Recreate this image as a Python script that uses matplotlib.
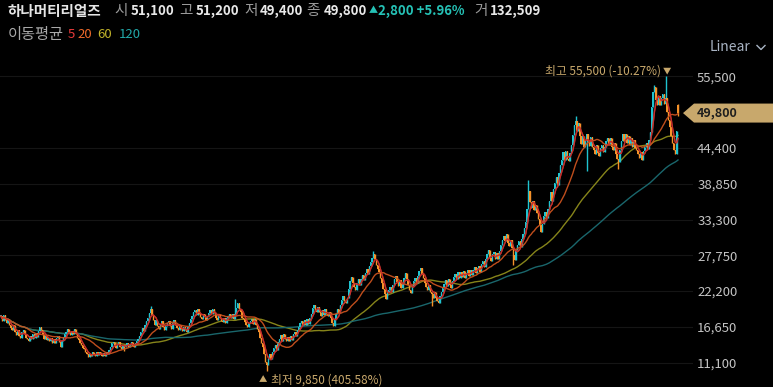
import matplotlib
matplotlib.use('Agg')
import matplotlib.pyplot as plt
import numpy as np
import pandas as pd
from matplotlib.patches import Polygon

plt.rcParams['font.family'] = ['Noto Sans CJK KR', 'DejaVu Sans']

W, H = 773, 387

# ---- data (daily closes) ----
closes = [
    18300, 17600, 18500, 17700, 17200, 17900, 17000, 16500, 16100, 16900,
    15900, 15400, 16100, 15300, 15000, 15800, 16200, 15500, 15000, 14700,
    14500, 15300, 14800, 15600, 15000, 15700, 15100, 16000, 16600, 16200,
    15400, 14800, 15300, 14600, 15000, 14500, 14900, 14200, 14800, 14100,
    14900, 15200, 14300, 13600, 14500, 15100, 15500, 15900, 16400, 15900,
    15400, 16000, 15500, 16300, 15500, 15000, 14600, 14100, 13900, 13400,
    13200, 12700, 12400, 12000, 12500, 12100, 12800, 12300, 12100, 12700,
    12300, 12800, 12300, 12100, 12600, 12200, 12700, 12400, 13000, 13500,
    14100, 14300, 13700, 13400, 14000, 14300, 13600, 13300, 13900, 13500,
    13900, 14200, 13600, 14000, 14300, 13700, 13500, 14100, 14500, 14800,
    15300, 15900, 16500, 16000, 16900, 17500, 18100, 18800, 19400, 18500,
    17700, 17000, 17700, 16800, 16400, 17100, 17600, 16700, 16200, 16800,
    17300, 17600, 16800, 16300, 17200, 17700, 17000, 16500, 16200, 16900,
    16300, 16000, 16600, 16100, 15900, 16600, 17200, 17800, 18400, 18900,
    19200, 18500, 19400, 18700, 18200, 17900, 18700, 18200, 17700, 18400,
    18800, 19300, 18600, 19500, 18800, 18100, 17700, 18600, 18000, 17500,
    17400, 18100, 17300, 18000, 18400, 18700, 18000, 18600, 17800, 18700,
    19600, 20400, 19500, 18900, 18100, 17900, 17400, 17000, 16600, 17300,
    17600, 17900, 17100, 17800, 16900, 16300, 15800, 15000, 14200, 13500,
    12400, 11200, 10700, 11800, 12400, 11700, 12700, 13400, 13800, 13100,
    14300, 14800, 15400, 14500, 15500, 14800, 14400, 15100, 14500, 15300,
    14600, 15500, 15900, 15200, 16200, 16700, 17200, 17600, 17000, 17700,
    17000, 17800, 17100, 18000, 18700, 19600, 20100, 19300, 18900, 19800,
    18900, 18400, 19300, 18500, 19400, 18700, 18300, 19000, 18100, 17300,
    16800, 17900, 18700, 19400, 18800, 20000, 20800, 21500, 20600, 20300,
    21200, 22600, 23700, 24400, 23500, 22800, 22300, 23400, 24000, 23200,
    24100, 24700, 23900, 25000, 25600, 24900, 26100, 26700, 27400, 28000,
    27100, 26300, 25600, 25100, 24300, 23500, 22500, 21700, 21000, 22000,
    22400, 22900, 22100, 23200, 24000, 24500, 23600, 23000, 23900, 22700,
    23500, 24200, 25000, 24000, 23100, 22400, 21900, 23000, 23700, 24300,
    23400, 24500, 25300, 25800, 24900, 24200, 23400, 22800, 22300, 23100,
    22100, 21700, 21200, 22000, 21100, 20600, 20400, 21400, 22000, 22700,
    23300, 23900, 23000, 24100, 23100, 22700, 23700, 24400, 24900, 24100,
    25100, 24300, 25200, 24400, 25300, 24200, 25000, 25400, 24600, 25500,
    24700, 25500, 25900, 25000, 25800, 26100, 25200, 26400, 26900, 26000,
    27200, 27900, 28500, 27300, 26800, 27900, 28300, 27200, 28100, 27100,
    28400, 29300, 30100, 30700, 29900, 31000, 29700, 29200, 30100, 28900,
    27800, 27000, 28500, 29300, 29900, 29100, 30300, 31100, 32000, 32900,
    34900, 37700, 36000, 35100, 36100, 34700, 35600, 34300, 33400, 32500,
    31400, 32600, 33800, 34500, 33600, 35000, 36200, 37500, 36200, 38100,
    38900, 39900, 38600, 40500, 41800, 42600, 43700, 42500, 43900, 42700,
    42300, 43600, 44900, 46400, 47900, 48600, 47000, 48300, 46200, 45000,
    46200, 44600, 45700, 46600, 45400, 44700, 46100, 44500, 44000, 43500,
    44800, 43600, 43100, 44400, 44900, 43700, 44600, 45400, 46000, 45000,
    45900, 44600, 44100, 45200, 43400, 42700, 42200, 44100, 45500, 46500,
    45400, 46600, 45200, 46300, 44900, 46000, 44600, 45600, 44400, 44000,
    43500, 42900, 43800, 42600, 43900, 44500, 45200, 44200, 45600, 46900,
    50800, 53000, 53800, 51900, 51100, 52500, 51000, 52100, 52700, 51200,
    52100, 50000, 48800, 47600, 46200, 45100, 44000, 43500, 47000, 49800,
]
last_open, last_high, last_low, last_close = 51100, 51200, 49400, 49800
change, change_pct, volume = 2800, 5.96, 132509
wick_high = {108: 19900, 169: 20900, 269: 28400, 381: 39500, 415: 49400,
             472: 54200, 480: 55500}
wick_low = {89: 12900, 192: 9850, 311: 19900, 370: 26300, 423: 40800, 446: 41100}
ma_windows = [5, 20, 60, 120]
ma_line_colors = ['#c8302c', '#c9521e', '#8e8c1c', '#1b6c72']
ma_label_colors = ['#e83a3a', '#f06a2a', '#c2b42a', '#22a8a8']
ytick_values = [11100, 16650, 22200, 27750, 33300, 38850, 44400, 55500]
hi_idx, hi_val, hi_pct = 480, 55500, -10.27
lo_idx, lo_val, lo_pct = 192, 9850, 405.58

UP = '#1fc3d0'
DOWN = '#f5922a'
BG = '#000000'
TAN = '#c8a86c'

n = len(closes)
idx = np.arange(n)
c = np.array(closes, dtype=float)
o = np.concatenate([[c[0]], c[:-1]])
o[-1] = last_open
hi = np.maximum(o, c)
lo = np.minimum(o, c)
for k, v in wick_high.items():
    hi[k] = v
for k, v in wick_low.items():
    lo[k] = v
hi[-1] = last_high
lo[-1] = last_low

fig = plt.figure(figsize=(W / 100, H / 100), dpi=100, facecolor=BG)
ax_right = 693
ax = fig.add_axes([0, 0, ax_right / W, 1])
ax.set_facecolor(BG)

px_per_candle = 1.3845
left = -1 / px_per_candle
ax.set_xlim(left, left + ax_right / px_per_candle)
p_top = 11100 + 362.7 * 155.03
p_bot = 11100 - (H - 362.7) * 155.03
ax.set_ylim(p_bot, p_top)

for sp in ax.spines.values():
    sp.set_visible(False)
ax.set_xticks([])
ax.yaxis.tick_right()
ax.set_yticks(ytick_values)
ax.set_yticklabels([f'{v:,}' for v in ytick_values])
ax.tick_params(axis='y', length=0, pad=3, labelsize=9.5, labelcolor='#c4c4c4')
ax.grid(axis='y', color='#151515', linewidth=0.8)
ax.set_axisbelow(True)

s = pd.Series(c)
for w, col in zip(ma_windows, ma_line_colors):
    ma = s.rolling(w, min_periods=1).mean()
    ax.plot(idx, ma, color=col, linewidth=1.0, zorder=2 if w > 20 else 4, alpha=0.95)

up = c >= o
colors = np.where(up, UP, DOWN)
ax.vlines(idx, lo, hi, colors=colors, linewidth=1.0, zorder=3)
body_h = np.maximum(np.abs(c - o), 150)
ax.bar(idx, body_h, bottom=np.minimum(o, c), width=0.9, color=colors, linewidth=0, zorder=3)
ma5 = s.rolling(5, min_periods=1).mean()
ax.plot(idx, ma5, color=ma_line_colors[0], linewidth=0.9, zorder=4, alpha=0.8)

ax.annotate('▼', xy=(hi_idx, hi_val), xytext=(1, 5), textcoords='offset pixels',
            ha='center', va='center', fontsize=6, color=TAN)
ax.annotate(f'최고 {hi_val:,} ({hi_pct:.2f}%)', xy=(hi_idx, hi_val), xytext=(-5, 5),
            textcoords='offset pixels', ha='right', va='center', fontsize=8.5, color=TAN)
ax.annotate('▲', xy=(lo_idx, lo_val), xytext=(-4, -9), textcoords='offset pixels',
            ha='center', va='center', fontsize=6, color=TAN)
ax.annotate(f'최저 {lo_val:,} ({lo_pct:.2f}%)', xy=(lo_idx, lo_val), xytext=(4, -9),
            textcoords='offset pixels', ha='left', va='center', fontsize=8.5, color=TAN)


def ftext(x, y, s, **kw):
    fig.text(x / W, 1 - y / H, s, va='center', ha=kw.pop('ha', 'left'), **kw)


y_last = ax.transData.transform((0, last_close))[1]
yc = H - y_last
pts = [(683, yc), (694, yc - 9.5), (W, yc - 9.5), (W, yc + 9.5), (694, yc + 9.5)]
tag = Polygon([(x, H - y) for (x, y) in pts], closed=True, transform=None,
              facecolor=TAN, edgecolor='none')
fig.patches.append(tag)
ftext(697, yc, f'{last_close:,}', fontsize=9, color='#1e1e1e', fontweight='bold')

ftext(710, 47, 'Linear', fontsize=10, color='#a9b4c4')
fig.add_artist(plt.Line2D([757 / W, 761 / W, 765 / W], [1 - 45.5 / H, 1 - 49.5 / H, 1 - 45.5 / H],
                          color='#a9b4c4', linewidth=1.0))

GRAY = '#9a9a9a'
WH = '#e8e8e8'
TEAL = '#25c2b6'
ftext(8, 11, '하나머티리얼즈', fontsize=10.5, color='#e6e6e6', fontweight='bold')
ftext(114, 11, '시', fontsize=10.5, color=GRAY)
ftext(131, 11, f'{last_open:,}', fontsize=9.5, color=WH, fontweight='bold')
ftext(179, 11, '고', fontsize=10.5, color=GRAY)
ftext(196, 11, f'{last_high:,}', fontsize=9.5, color=WH, fontweight='bold')
ftext(244, 11, '저', fontsize=10.5, color=GRAY)
ftext(260, 11, f'{last_low:,}', fontsize=9.5, color=WH, fontweight='bold')
ftext(306, 11, '종', fontsize=10.5, color=GRAY)
ftext(324, 11, f'{last_close:,}', fontsize=9.5, color=WH, fontweight='bold')
ftext(369, 11, '▲', fontsize=6.5, color=TEAL)
ftext(378, 11, f'{change:,} +{change_pct:.2f}%', fontsize=9.5, color=TEAL, fontweight='bold')
ftext(474, 11, '거', fontsize=10.5, color=GRAY)
ftext(490, 11, f'{volume:,}', fontsize=9.5, color=WH, fontweight='bold')

ftext(8, 34, '이동평균', fontsize=11, color='#a8a8a8')
xs = [68, 77, 97, 119]
for xx, w, col in zip(xs, ma_windows, ma_label_colors):
    ftext(xx, 34, str(w), fontsize=9.5, color=col)

fig.savefig('out.png', dpi=100, facecolor=BG)
